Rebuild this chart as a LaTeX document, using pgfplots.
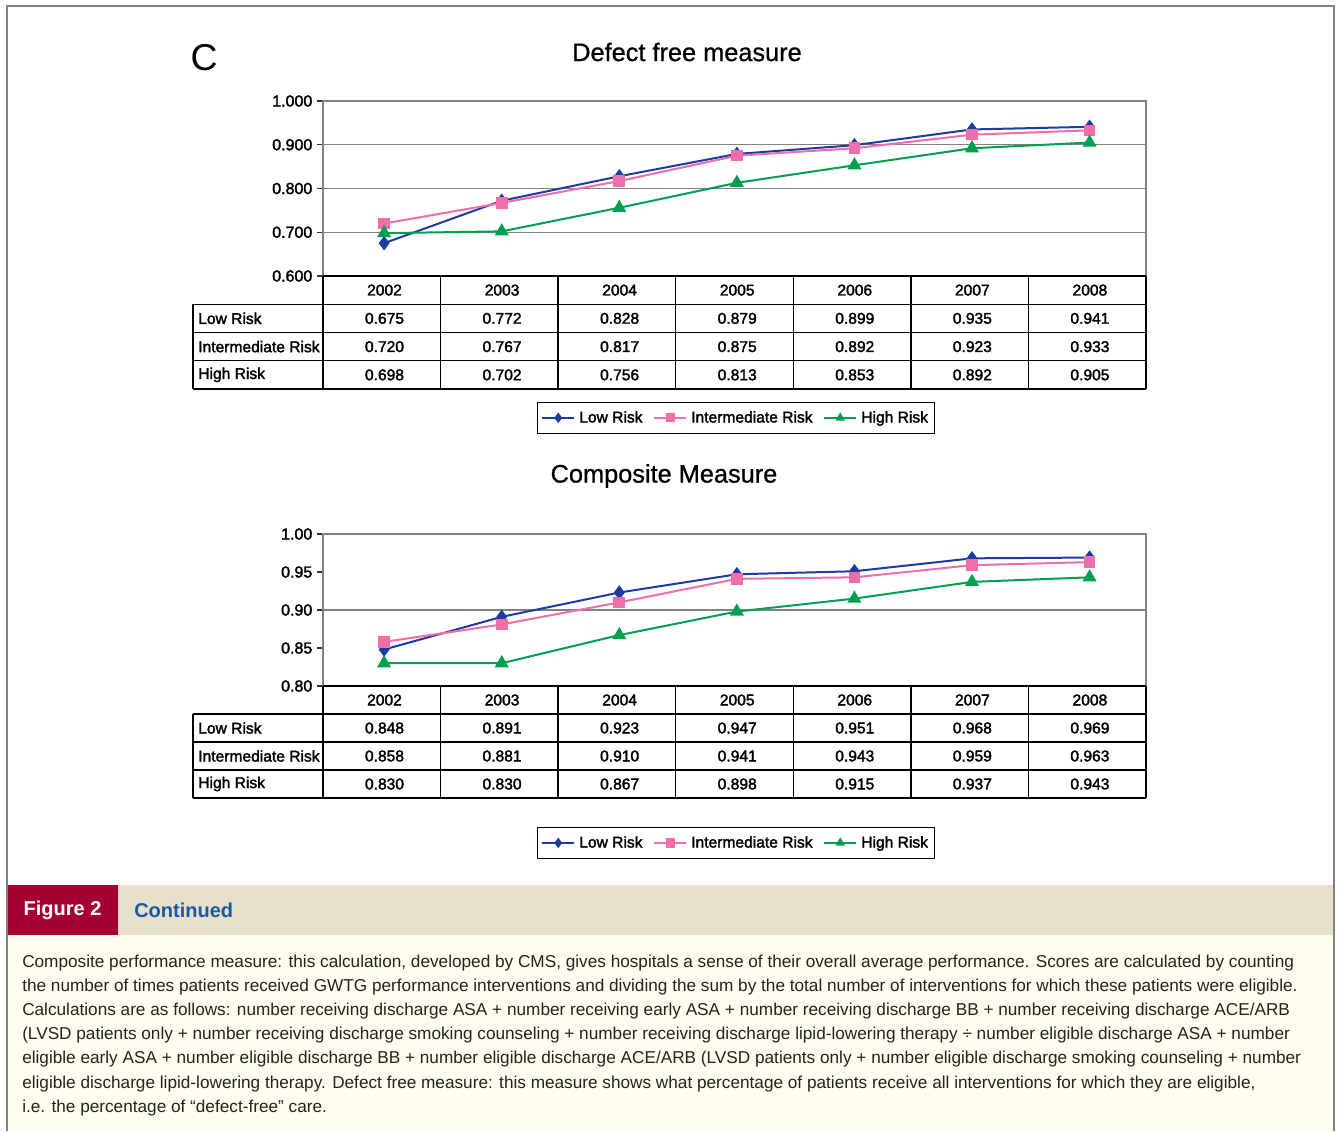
\documentclass[border=0pt]{standalone}
\usepackage{fontspec}
\usepackage{pgfplots}
\usepackage{pgfplotstable}
\pgfplotsset{compat=1.18}
\setmainfont{Liberation Sans}
\setsansfont{Liberation Sans}
\newfontfamily\chartfont[FakeBold=2]{Liberation Sans}
\newfontfamily\titlefont[FakeBold=0.8]{Liberation Sans}
\newfontfamily\capfont{Liberation Sans}
\definecolor{lowc}{RGB}{30,60,160}
\definecolor{intc}{RGB}{240,110,170}
\definecolor{highc}{RGB}{0,160,80}
\definecolor{figred}{RGB}{165,0,50}
\definecolor{bartan}{RGB}{232,224,202}
\definecolor{cream}{RGB}{255,253,240}
\definecolor{contblue}{RGB}{20,90,165}
\definecolor{framegray}{RGB}{130,130,130}
\definecolor{txt}{RGB}{35,35,35}

\pgfplotstableread{
idx low inter high
0 0.675 0.720 0.698
1 0.772 0.767 0.702
2 0.828 0.817 0.756
3 0.879 0.875 0.813
4 0.899 0.892 0.853
5 0.935 0.923 0.892
6 0.941 0.933 0.905
}\dfm
\pgfplotstableread{
idx low inter high
0 0.848 0.858 0.830
1 0.891 0.881 0.830
2 0.923 0.910 0.867
3 0.947 0.941 0.898
4 0.951 0.943 0.915
5 0.968 0.959 0.937
6 0.969 0.963 0.943
}\cm

\pgfplotsset{chartaxis/.style={
  scale only axis, width=617.25pt,
  xmin=-0.52, xmax=6.48, xtick=\empty,
  ymajorgrids, grid style={draw=framegray, line width=1pt},
  axis line style={draw=framegray, line width=1pt},
  ytick pos=left, tick align=outside, major tick length=4.5pt,
  ytick style={draw=black!80, line width=0.9pt},
  yticklabel style={font=\chartfont\fontsize{12}{14}\selectfont, /pgf/number format/assume math mode=true,
     /pgf/number format/fixed, /pgf/number format/fixed zerofill},
  every axis plot/.append style={line width=1.5pt},
  legend columns=3,
  legend style={draw=black, line width=0.8pt, font=\chartfont\fontsize{11.7}{13}\selectfont, anchor=north,
     inner xsep=3pt, inner ysep=4.5pt, /tikz/every even column/.append style={column sep=6pt},
     /tikz/every odd column/.append style={column sep=1pt}},
  legend image code/.code={\draw[mark repeat=2,mark phase=2,#1] plot coordinates {(0pt,0pt) (12pt,0pt) (24pt,0pt)};},
  legend image post style={mark size=2.7pt},
}}

\newcommand\drawtable[5]{%
 \def\ty{#1}\def\rh{#5}%
 \draw[line width=1.1pt] (323,\ty) -- (1146,\ty);
 \foreach \r in {1,2,3,4} \draw[line width=1.1pt] (193,{\ty+\rh*\r}) -- (1146,{\ty+\rh*\r});
 \draw[line width=1.1pt] (193,{\ty+\rh}) -- (193,{\ty+4*\rh});
 \foreach \c in {0,...,7} \draw[line width=1.1pt] ({323+117.57*\c},\ty) -- ({323+117.57*\c},{\ty+4*\rh});
 \foreach \yr [count=\i from 0] in {2002,...,2008} \node[tabfont] at ({384.5+117.57*\i},{\ty+0.5*\rh}) {\yr};
 \node[tabfont,anchor=west] at (198,{\ty+1.5*\rh}) {Low Risk};
 \node[tabfont,anchor=west] at (198,{\ty+2.5*\rh}) {Intermediate Risk};
 \node[tabfont,anchor=west] at (198,{\ty+3.5*\rh}) {High Risk};
 \foreach \v [count=\i from 0] in {#2} \node[tabfont] at ({384.5+117.57*\i},{\ty+1.5*\rh}) {\v};
 \foreach \v [count=\i from 0] in {#3} \node[tabfont] at ({384.5+117.57*\i},{\ty+2.5*\rh}) {\v};
 \foreach \v [count=\i from 0] in {#4} \node[tabfont] at ({384.5+117.57*\i},{\ty+3.5*\rh}) {\v};
}

\begin{document}
\begin{tikzpicture}
\begin{scope}[x=0.75pt,y=-0.75pt]
\path[use as bounding box] (0,0) rectangle (1341,1131);
\fill[white] (0,0) rectangle (1341,1131);
% caption backgrounds
\fill[cream] (7,935) rectangle (1334,1131);
\fill[bartan] (118,885) rectangle (1334,935);
\fill[figred] (7,885) rectangle (118,935);
\draw[framegray, line width=1.5pt] (7,1131) -- (7,6) -- (1334,6) -- (1334,1131);

% titles
\node[font=\capfont\fontsize{28}{32}\selectfont] at (204,58) {C};
\node[font=\titlefont\fontsize{19}{22}\selectfont] at (687,52) {Defect free measure};
\node[font=\titlefont\fontsize{19}{22}\selectfont] at (664,476) {Composite Measure};
\end{scope}

% top chart
\begin{axis}[chartaxis, at={(242.25pt,-207pt)}, anchor=south west, height=131.25pt,
  ymin=0.6, ymax=1.0, ytick={0.6,0.7,0.8,0.9,1.0},
  yticklabel style={/pgf/number format/precision=3},
  legend style={at={(0.5018,-0.72)}}]
\addplot[lowc, mark=diamond*, mark size=4.2pt] table[x=idx,y=low]{\dfm};
\addplot[intc, mark=square*, mark size=3.6pt] table[x=idx,y=inter]{\dfm};
\addplot[highc, mark=triangle*, mark size=4.6pt] table[x=idx,y=high]{\dfm};
\legend{Low Risk, Intermediate Risk, High Risk}
\end{axis}

% bottom chart
\begin{axis}[chartaxis, at={(242.25pt,-514.5pt)}, anchor=south west, height=114pt,
  ymin=0.8, ymax=1.0, ytick={0.8,0.85,0.9,0.95,1.0},
  ymajorgrids=false, extra y ticks={0.9}, extra y tick labels={}, extra y tick style={grid=major, major tick length=0pt},
  yticklabel style={/pgf/number format/precision=2},
  legend style={at={(0.5018,-0.928)}}]
\addplot[lowc, mark=diamond*, mark size=4.2pt] table[x=idx,y=low]{\cm};
\addplot[intc, mark=square*, mark size=3.6pt] table[x=idx,y=inter]{\cm};
\addplot[highc, mark=triangle*, mark size=4.6pt] table[x=idx,y=high]{\cm};
\legend{Low Risk, Intermediate Risk, High Risk}
\end{axis}

\begin{scope}[x=0.75pt,y=-0.75pt, tabfont/.style={font=\chartfont\fontsize{11.7}{13}\selectfont, inner sep=0pt}]
\drawtable{276}{0.675,0.772,0.828,0.879,0.899,0.935,0.941}{0.720,0.767,0.817,0.875,0.892,0.923,0.933}{0.698,0.702,0.756,0.813,0.853,0.892,0.905}{28.25}
\drawtable{686}{0.848,0.891,0.923,0.947,0.951,0.968,0.969}{0.858,0.881,0.910,0.941,0.943,0.959,0.963}{0.830,0.830,0.867,0.898,0.915,0.937,0.943}{28}

% caption
\node[font=\capfont\bfseries\fontsize{15}{18}\selectfont, text=white] at (62.5,910) {Figure 2};
\node[font=\capfont\bfseries\fontsize{15}{18}\selectfont, text=contblue, anchor=west, inner sep=0pt] at (134,910) {Continued};
\begin{scope}[every node/.style={anchor=base west, inner sep=0pt, text=txt, font=\capfont\fontsize{12.9}{14}\selectfont}]
\node at (22,967) {Composite performance measure: this calculation, developed by CMS, gives hospitals a sense of their overall average performance. Scores are calculated by counting};
\node at (22,991) {the number of times patients received GWTG performance interventions and dividing the sum by the total number of interventions for which these patients were eligible.};
\node at (22,1015) {Calculations are as follows: number receiving discharge ASA + number receiving early ASA + number receiving discharge BB + number receiving discharge ACE/ARB};
\node at (22,1039) {(LVSD patients only + number receiving discharge smoking counseling + number receiving discharge lipid-lowering therapy ÷ number eligible discharge ASA + number};
\node at (22,1063) {eligible early ASA + number eligible discharge BB + number eligible discharge ACE/ARB (LVSD patients only + number eligible discharge smoking counseling + number};
\node at (22,1088) {eligible discharge lipid-lowering therapy. Defect free measure: this measure shows what percentage of patients receive all interventions for which they are eligible,};
\node at (22,1112) {i.e. the percentage of “defect-free” care.};
\end{scope}
\end{scope}
\end{tikzpicture}
\end{document}
